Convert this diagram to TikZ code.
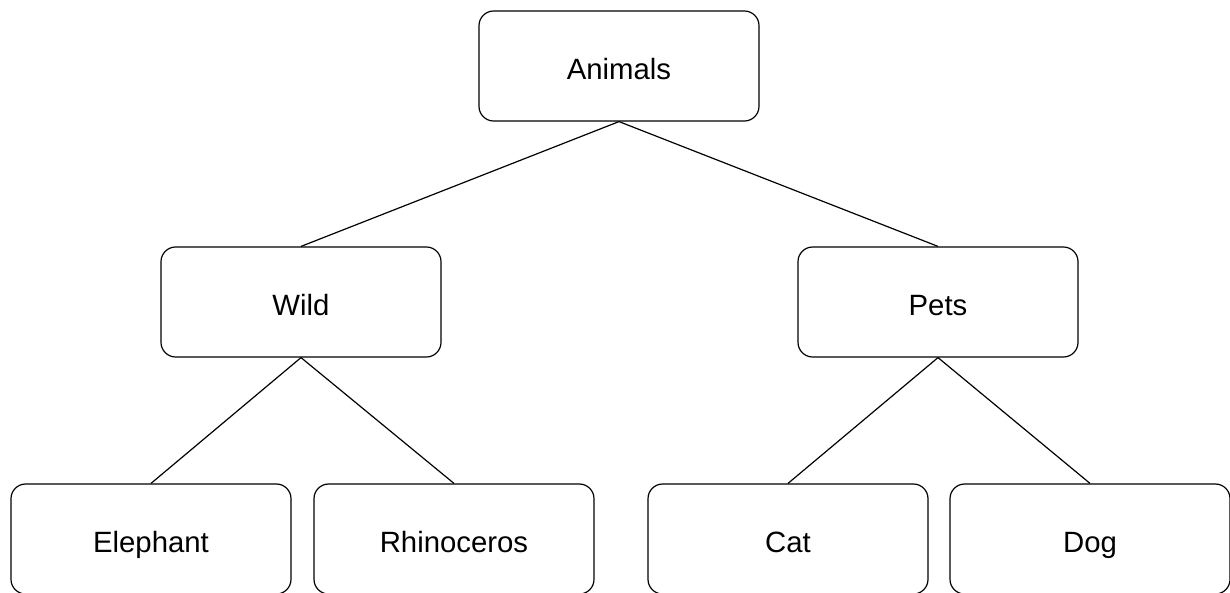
\documentclass[tikz,border=0pt]{standalone}
\usepackage{fontspec}
\setmainfont{Liberation Sans}
\begin{document}
\begin{tikzpicture}[x=0.75pt,y=-0.75pt]
        \tikzstyle{every node}=[font=\fontsize{22}{26}\selectfont]
        \tikzstyle{box}=[draw,rounded corners=11pt,line width=0.9pt,minimum width=210pt,minimum height=82.5pt,text height=20pt,text depth=0pt]
        \useasboundingbox (0,0) rectangle (1230,592);

        % Levels of the tree
        \node[box] (animals) at (619,66) {Animals};
        \node[box] (wild) at (301,302) {Wild};
        \node[box] (pets) at (938,302) {Pets};
        \node[box] (elephant) at (151,539) {Elephant};
        \node[box] (rhino) at (454,539) {Rhinoceros};
        \node[box] (cat) at (788,539) {Cat};
        \node[box] (dog) at (1090,539) {Dog};

        % Branches
        \draw[line width=0.9pt] (animals.south) -- (wild.north);
        \draw[line width=0.9pt] (animals.south) -- (pets.north);
        \draw[line width=0.9pt] (wild.south) -- (elephant.north);
        \draw[line width=0.9pt] (wild.south) -- (rhino.north);
        \draw[line width=0.9pt] (pets.south) -- (cat.north);
        \draw[line width=0.9pt] (pets.south) -- (dog.north);
    \end{tikzpicture}
\end{document}
